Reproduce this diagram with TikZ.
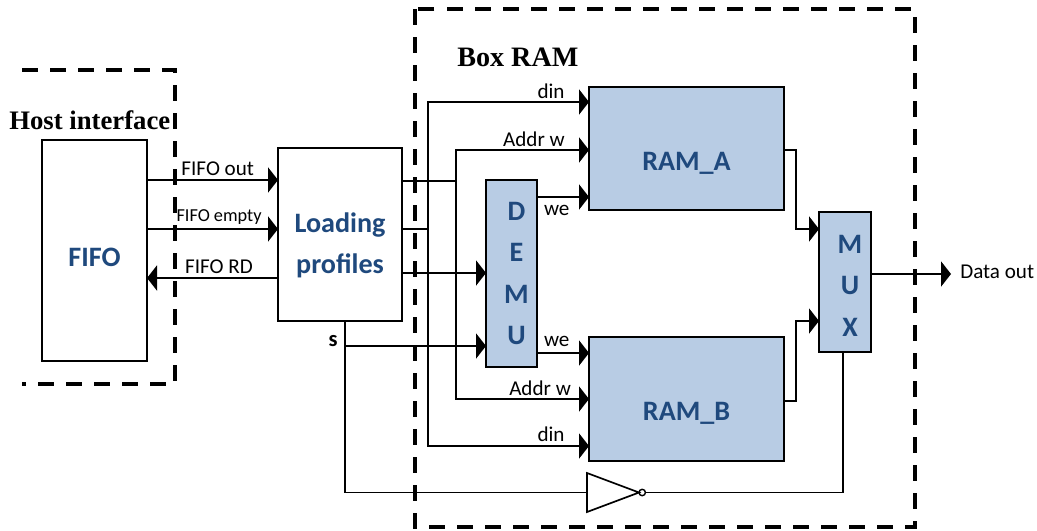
\documentclass[tikz,border=0pt]{standalone}
\usepackage{fontspec}
\setmainfont{Carlito}
\newfontfamily\serifbold[BoldFont={Liberation Serif Bold}]{Liberation Serif}
\usepackage{tikz}
\usetikzlibrary{calc}
\usetikzlibrary{arrows.meta}
\usetikzlibrary{shapes.geometric}
\definecolor{ramfill}{HTML}{B8CCE4}
\definecolor{ramtext}{HTML}{1F497D}
\newcommand{\lowered}[1]{\rule{0pt}{#1}}
\newcommand{\nudged}[1]{\hspace*{0.25cm}#1}
\tikzset{
	block/.style= {draw, line width=1.4pt, anchor=north west, inner sep=0pt, outer sep=0pt, align=center, text=ramtext, font=\fontsize{20}{29.5}\selectfont\bfseries},
	ramblock/.style= {block, fill=ramfill},
	border/.style= {line width=2.9pt, dash pattern=on 0.4cm off 0.3cm},
	wire/.style= {line width=1.3pt},
	bus/.style= {line width=1.7pt, arrows=-{Triangle[length=0.25cm, width=0.625cm]}},
	lbl/.style= {font=\fontsize{15}{15}\selectfont, inner sep=0pt},
	title/.style= {font=\fontsize{19}{19}\serifbold\bfseries\selectfont, inner sep=0pt},
}

\begin{document}
\begin{tikzpicture}[x= 0.025cm, y= -0.025cm]
	\useasboundingbox (0,0) rectangle (1037,531);

	% dashed borders
	\draw [border] (22,70) -- (175,70) -- (175,384) -- (22,384);
	\draw [border] (415,9) rectangle (915,527);
	\node (host) [title, anchor=west] at (9,120) {Host interface};
	\node (boxram) [title, anchor=west, font=\fontsize{20}{20}\serifbold\bfseries\selectfont] at (457,57) {Box RAM};

	% blocks
	\node (fifo) [block, minimum width=2.625cm, minimum height=5.525cm] at (42,140) {\lowered{22.5pt}FIFO};
	\node (load) [block, minimum width=3.1cm, minimum height=4.325cm] at (278,148) {\lowered{29.5pt}Loading\\profiles};
	\node (ramA) [ramblock, minimum width=4.875cm, minimum height=3.075cm] at (589,87) {\lowered{33.5pt}RAM\_A};
	\node (ramB) [ramblock, minimum width=4.875cm, minimum height=3.1cm] at (589,337) {\lowered{33.5pt}RAM\_B};
	\node (demu) [ramblock, minimum width=1.275cm, minimum height=4.675cm] at (486,180) {\nudged{D}\\\nudged{E}\\\nudged{M}\\\nudged{U}};
	\node (mux) [ramblock, minimum width=1.3cm, minimum height=3.5cm] at (819,212) {\lowered{18pt}\nudged{M}\\\nudged{U}\\\nudged{X}};

	% inverter
	\node (inv) [draw, line width=1.2pt, isosceles triangle, isosceles triangle stretches, inner sep=0pt, outer sep=0pt, minimum width=0.975cm, minimum height=1.3cm, anchor=left corner] at (587,473) {};
	\node (bubble) [draw, line width=1pt, circle, inner sep=0pt, outer sep=0pt, minimum size=0.16cm, anchor=west] at (inv.apex) {};

	% host side
	\draw [bus] (fifo.east |- 0,180) -- (load.west |- 0,180) node (fifoout) [lbl, pos=0.54, above=2pt] {FIFO out};
	\draw [bus] (fifo.east |- 0,229) -- (load.west |- 0,229) node (fifoempty) [lbl, pos=0.55, above=2.5pt, font=\fontsize{13}{13}\selectfont] {FIFO empty};
	\draw [bus] (load.west |- 0,278) -- (fifo.east |- 0,278) node (fiford) [lbl, pos=0.45, above=2pt] {FIFO RD};

	% din
	\coordinate (dinsplit) at (428,229);
	\draw [wire] (load.east |- dinsplit) -- (dinsplit);
	\draw [bus] (dinsplit) |- (ramA.west |- 0,102) node (dinA) [lbl, pos=0.882, above=1.5pt] {din};
	\draw [bus] (dinsplit) |- (ramB.west |- 0,446) node (dinB) [lbl, pos=0.882, above=2pt] {din};

	% addr
	\coordinate (addrsplit) at (456,181);
	\draw [wire] (load.east |- addrsplit) -- (addrsplit);
	\draw [bus] (addrsplit) |- (ramA.west |- 0,150) node (addrA) [lbl, pos=0.793, above=1.5pt] {Addr w};
	\draw [bus] (addrsplit) |- (ramB.west |- 0,399) node (addrB) [lbl, pos=0.816, above=1.5pt] {Addr w};

	% demux
	\draw [bus] (load.east |- 0,273) -- (demu.west |- 0,273);
	\draw [bus] (demu.east |- 0,197) -- (ramA.west |- 0,197) node (weA) [lbl, pos=0.38, below=5pt] {we};
	\draw [bus] (demu.east |- 0,353) -- (ramB.west |- 0,353) node (weB) [lbl, pos=0.38, above=4pt] {we};

	% select
	\coordinate (sel) at (load.south -| 345,0);
	\coordinate (selturn) at (345,346);
	\draw [wire] (sel) |- (inv.west);
	\draw [bus] (selturn) -- (demu.west |- selturn);
	\node (s) [lbl, font=\fontsize{16}{16}\selectfont\bfseries] at (333,341) {s};
	\draw [wire] (bubble.east) -| (mux.south -| 843,0);

	% outputs
	\draw [bus] (ramA.east |- 0,150) -- (796,150) |- (mux.west |- 0,229);
	\draw [bus] (ramB.east |- 0,401) -- (796,401) |- (mux.west |- 0,321);
	\coordinate (dataend) at (951,274);
	\draw [bus] (mux.east |- dataend) -- (dataend);
	\node (dataout) [lbl, anchor=west] at (960,272) {Data out};
\end{tikzpicture}
\end{document}
